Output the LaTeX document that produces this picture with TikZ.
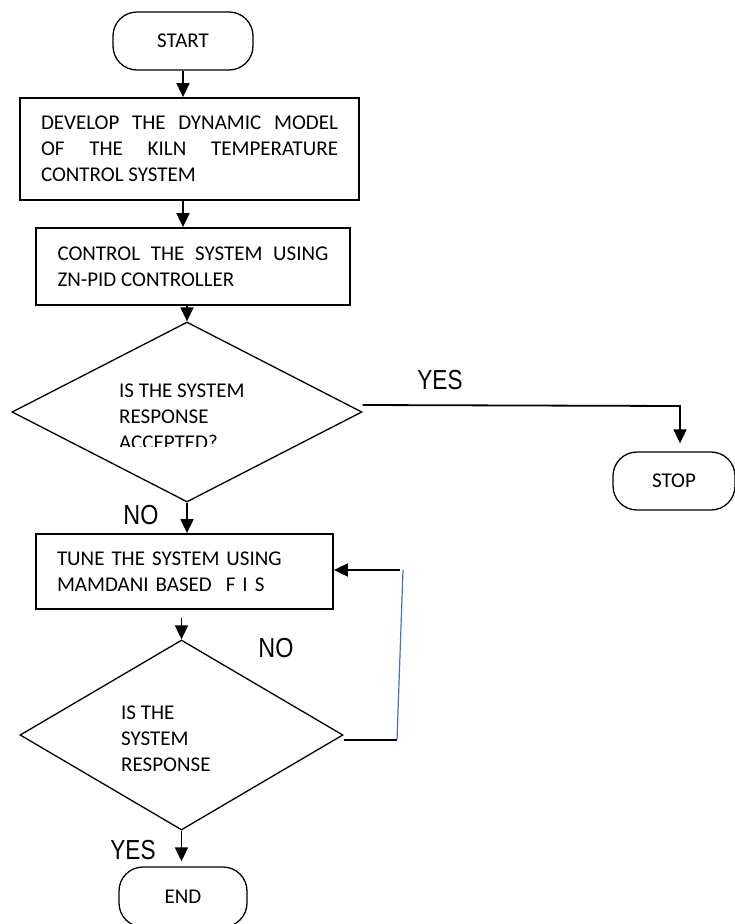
\documentclass[tikz,border=0pt]{standalone}
\usepackage{fontspec}
\setmainfont{Carlito}
\newfontfamily\labelfont{Liberation Sans}
\usetikzlibrary{shapes.geometric,arrows.meta}
\definecolor{loopblue}{RGB}{68,114,196}
\begin{document}
\begin{tikzpicture}[x=1pt,y=-1pt,
  boxtext/.style={font=\fontsize{21}{26}\selectfont},
  terminal/.style={draw,line width=1.3pt,rounded corners=24pt,inner sep=0pt,boxtext},
  procbox/.style={draw,line width=1.8pt,inner sep=0pt,boxtext,align=left},
  decision/.style={draw,diamond,line width=1.3pt,inner sep=0pt},
  dtext/.style={boxtext,align=left,inner sep=0pt,anchor=west},
  flow/.style={line width=1.8pt,-{Triangle[length=14pt,width=13pt]}},
  plain/.style={line width=1.6pt},
  lbl/.style={font=\labelfont\fontsize{27.5}{30}\selectfont,inner sep=0pt}
]
\useasboundingbox (0,0) rectangle (735,924);

% terminals
\node[terminal,minimum width=140pt,minimum height=58pt] (start) at (183,41) {START};
\node[terminal,minimum width=122pt,minimum height=58pt] (stop) at (674,481) {STOP};
\node[terminal,minimum width=128pt,minimum height=60pt] (end) at (183,897) {END};

% process boxes
\node[procbox,minimum width=339pt,minimum height=102pt] (box1) at (189.5,149)
  {\makebox[297pt][s]{DEVELOP THE DYNAMIC MODEL}\\
   \makebox[297pt][s]{OF THE KILN TEMPERATURE}\\
   CONTROL SYSTEM};
\node[procbox,minimum width=314pt,minimum height=77pt] (box2) at (193,266.5)
  {\makebox[271pt][s]{CONTROL THE SYSTEM USING}\\
   ZN-PID CONTROLLER};
\node[procbox,text width=255pt,inner xsep=21pt,minimum height=75pt] (box3) at (184.5,571.5)
  {TUNE THE SYSTEM USING\\
   MAMDANI BASED\ \ F I S};

% decisions
\node[decision,minimum width=350pt,minimum height=180pt] (d1) at (187,412) {};
\begin{scope}
  \clip (0,300) rectangle (360,446);
  \node[dtext] (d1t) at (119,417) {IS THE SYSTEM\\RESPONSE\\ACCEPTED?};
\end{scope}
\node[decision,minimum width=323pt,minimum height=190pt] (d2) at (181.5,735) {};
\node[dtext] (d2t) at (121,739) {IS THE\\SYSTEM\\RESPONSE};

% labels
\node[lbl] (yes1) at (440,380) {\scalebox{0.82}[1]{YES}};
\node[lbl] (no1) at (141,515) {\scalebox{0.85}[1]{NO}};
\node[lbl] (no2) at (276,648) {\scalebox{0.85}[1]{NO}};
\node[lbl] (yes2) at (133,850) {\scalebox{0.82}[1]{YES}};

% connectors
\draw[flow] (start.south) -- (start.south |- box1.north);
\draw[flow] (start |- box1.south) -- (start |- box2.north);
\draw[flow] (d1.north |- box2.south) -- (d1.north);
\coordinate (yesturn) at (680,406);
\draw[flow,shorten >=8pt] ([yshift=7pt]d1.east) -- (yesturn) -- (yesturn |- stop.north);
\draw[flow] (d1.south) -- (d1.south |- box3.north);
\draw[flow,shorten <=8pt] (d2.north |- box3.south) -- (d2.north);
\coordinate (loopA) at (397,740);
\coordinate (loopB) at (403,570);
\draw[plain] ([yshift=-5pt]d2.east) -- (loopA);
\draw[loopblue,line width=1.2pt] (loopA) -- (loopB);
\draw[flow,shorten <=3pt] (loopB) -- (loopB -| box3.east);
\draw[flow,shorten >=5pt] (d2.south) -- (d2.south |- end.north);
\end{tikzpicture}
\end{document}
